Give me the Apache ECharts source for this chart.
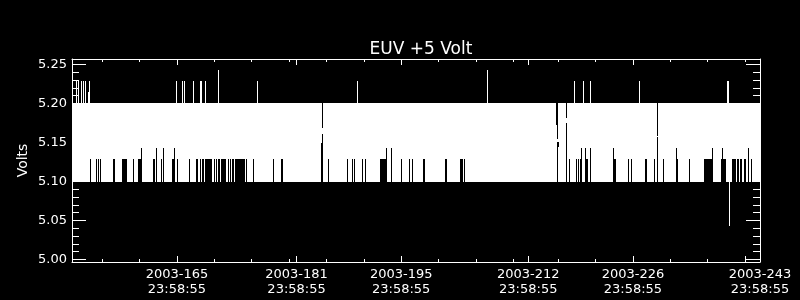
<!DOCTYPE html>
<html><head><meta charset="utf-8">
<script src="https://cdn.jsdelivr.net/npm/echarts@6/dist/echarts.min.js"></script>
<style>html,body{margin:0;padding:0;background:#000}#c{width:800px;height:300px}</style>
</head><body><div id="c"></div>
<script>
// ---------- text ----------
const TITLE = 'EUV +5 Volt';
const Y_NAME = 'Volts';

// ---------- axes (x in day-of-year 2003) ----------
const X_MIN = 150.96, X_MAX = 243.0;
const Y_MIN = 4.9968, Y_MAX = 5.2571;
const xLabelDays = [165, 181, 195, 212, 226, 243];
const xLabels = ['2003-165\n23:58:55', '2003-181\n23:58:55', '2003-195\n23:58:55',
                 '2003-212\n23:58:55', '2003-226\n23:58:55', '2003-243\n23:58:55'];
const xMajorBottom = [165, 181, 195, 212, 226, 241.04];
const xMajorTop = [165, 181, 195, 212, 226];
const xMinorBottom = [155, 160, 170, 175, 180, 185, 190, 200, 205, 210, 216, 221, 231, 236];
const xMinorTop = [155, 160, 170, 175, 180, 185, 190, 200, 205, 210, 216, 221, 231, 236, 241.04];
const yMajor = [5.00, 5.05, 5.10, 5.15, 5.20, 5.25];
const yMinor = [5.01, 5.02, 5.03, 5.04, 5.06, 5.07, 5.08, 5.09, 5.11, 5.12, 5.13, 5.14,
                5.16, 5.17, 5.18, 5.19, 5.21, 5.22, 5.23, 5.24];

// ---------- quantised voltage levels (V) ----------
const BAND_LOW = 5.0995, BAND_HIGH = 5.2008;
const L1 = 5.1289, L2 = 5.1430;           // minimum reached during dips
const S1 = 5.2289, S2 = 5.2430, S3 = 5.2148; // peaks above the band

// main oscillation band: [dayStart, dayEnd]
const band = [[150.96, 243.0]];

// dips: [dayStart, dayEnd, minimum voltage] (band minimum rose to this level)
const dips = [
  [153.318,153.452,L1],[154.121,154.254,L1],[154.388,154.522,L1],[154.656,154.790,L1],
  [156.395,156.662,L1],[157.599,158.268,L1],[159.070,159.204,L1],[159.739,160.141,L1],
  [160.141,160.275,L2],[161.746,162.014,L1],[162.147,162.281,L2],[162.816,162.950,L1],
  [163.084,163.218,L2],[164.288,164.556,L1],[164.556,164.689,L2],[164.957,165.091,L1],
  [166.562,166.696,L1],[167.499,167.766,L1],[168.034,168.168,L1],[168.301,168.569,L1],
  [168.703,169.639,L1],[169.907,170.040,L1],[170.174,170.308,L1],[170.442,170.709,L1],
  [170.843,171.512,L1],[171.780,171.913,L1],[172.047,172.181,L1],[172.315,172.582,L1],
  [172.716,174.054,L1],[174.188,174.321,L1],[175.124,175.258,L1],[177.800,177.933,L1],
  [178.870,179.137,L1],[185.157,185.291,L1],[187.699,187.833,L1],[188.368,188.502,L1],
  [188.636,188.770,L1],[189.706,189.840,L1],[190.107,190.241,L1],[192.114,192.917,L1],
  [192.917,193.050,L2],[193.586,193.719,L2],[194.923,195.057,L1],[195.994,196.127,L1],
  [196.395,196.529,L1],[197.866,198.134,L1],[200.810,201.077,L1],[202.816,203.218,L1],
  [203.351,203.485,L1],[217.398,217.532,L1],[218.335,218.468,L1],[218.602,218.736,L1],
  [218.870,219.003,L1],[219.003,219.137,L2],[219.539,219.672,L2],[219.672,219.940,L1],
  [220.208,220.341,L2],[223.284,223.418,L2],[223.418,223.686,L1],[225.291,225.425,L1],
  [225.693,225.826,L1],[227.565,227.833,L1],[228.769,228.903,L1],[229.973,230.107,L1],
  [231.713,231.847,L2],[231.847,231.981,L1],[233.452,233.585,L1],[235.458,236.529,L1],
  [236.529,236.662,L2],[237.733,237.866,L1],[237.866,238.000,L2],[238.000,238.402,L1],
  [239.204,239.740,L1],[239.873,240.141,L1],[240.274,240.542,L1],[240.810,241.077,L1],
  [241.345,241.478,L2],[241.746,241.880,L1]
];

// dropouts inside the band: [dayStart, dayEnd, low, high]
const dropouts = [
  [184.221,184.355,BAND_LOW,5.1490],
  [184.355,184.489,BAND_LOW,5.1610],
  [184.355,184.489,5.1690,BAND_HIGH],
  [215.659,215.793,5.1725,BAND_HIGH],
  [215.793,215.927,BAND_LOW,5.1511],
  [215.793,215.927,5.1545,BAND_HIGH],
  [215.927,216.060,5.1447,5.1511],
  [216.997,217.131,BAND_LOW,5.1754],
  [216.997,217.131,5.1811,BAND_HIGH],
  [229.171,229.305,BAND_LOW,5.1567],
  [229.171,229.305,5.1584,BAND_HIGH]
];

// peaks above the band: [dayStart, dayEnd, peak voltage]
const peaks = [
  [151.445,151.579,S1],[151.713,151.846,S1],[152.114,152.248,S1],[152.382,152.515,S1],
  [152.649,152.783,S1],[153.050,153.184,S3],[153.184,153.318,S1],[164.823,164.957,S1],
  [165.626,165.760,S1],[165.893,166.027,S1],[167.097,167.231,S1],[168.034,168.301,S1],
  [168.703,168.836,S1],[170.442,170.575,S2],[175.659,175.793,S1],[189.037,189.171,S1],
  [206.429,206.563,S2],[218.067,218.201,S1],[219.271,219.405,S1],[220.208,220.341,S1],
  [226.763,226.897,S1],[238.535,238.803,S1]
];

// excursions below the band: [dayStart, dayEnd, lowest voltage]
const lows = [[238.803,238.937,5.0434]];

// ---------- chart ----------
const FONT = 'DejaVu Sans';
const W = '#ffffff';

function rectRenderer(color) {
  return function (params, api) {
    const a = api.coord([api.value(0), api.value(2)]);
    const b = api.coord([api.value(1), api.value(3)]);
    const x0 = Math.round(Math.min(a[0], b[0]));
    const x1 = Math.max(x0 + 1, Math.round(Math.max(a[0], b[0])));
    const y0 = Math.round(Math.min(a[1], b[1]));
    const y1 = Math.max(y0 + 1, Math.round(Math.max(a[1], b[1])));
    return { type: 'rect', shape: { x: x0, y: y0, width: x1 - x0, height: y1 - y0 },
             style: { fill: color }, silent: true };
  };
}
function rectSeries(name, data, color) {
  return { name, type: 'custom', renderItem: rectRenderer(color), data,
           encode: { x: [0, 1], y: [2, 3] }, clip: true, animation: false, silent: true };
}

const bandData = band.map(([s, e]) => [s, e, BAND_LOW, BAND_HIGH]);
const dipData = dips.map(([s, e, v]) => [s, e, BAND_LOW, v]);
const peakData = peaks.map(([s, e, v]) => [s, e, BAND_HIGH, v]);
const lowData = lows.map(([s, e, v]) => [s, e, v, BAND_LOW]);

function xAxisDef(pos, ticks, len, showLine, showLabels) {
  return {
    type: 'value', position: pos, min: X_MIN, max: X_MAX,
    axisLine: { show: showLine, onZero: false, lineStyle: { color: W, width: 1 } },
    axisTick: { show: true, inside: true, length: len, customValues: ticks, lineStyle: { color: W, width: 1 } },
    axisLabel: showLabels ? {
      show: true, customValues: xLabelDays, color: W, fontFamily: FONT, fontSize: 13,
      lineHeight: 15, margin: 5,
      formatter: v => { const i = xLabelDays.findIndex(d => Math.abs(d - v) < 1e-6); return i >= 0 ? xLabels[i] : ''; }
    } : { show: false },
    splitLine: { show: false }
  };
}
function yAxisDef(pos, ticks, len, showLine, showLabels) {
  const ax = {
    type: 'value', position: pos, min: Y_MIN, max: Y_MAX,
    axisLine: { show: showLine, onZero: false, lineStyle: { color: W, width: 1 } },
    axisTick: { show: true, inside: true, length: len, customValues: ticks, lineStyle: { color: W, width: 1 } },
    axisLabel: showLabels ? {
      show: true, customValues: yMajor, color: W, fontFamily: FONT, fontSize: 13, margin: 5,
      formatter: v => v.toFixed(2)
    } : { show: false },
    splitLine: { show: false }
  };
  if (showLabels) {
    ax.name = Y_NAME; ax.nameLocation = 'middle'; ax.nameRotate = 90; ax.nameGap = 42;
    ax.nameMoveOverlap = false;
    ax.nameTextStyle = { color: W, fontFamily: FONT, fontSize: 14 };
  }
  return ax;
}

const chart = echarts.init(document.getElementById('c'), null, { renderer: 'canvas' });
chart.setOption({
  backgroundColor: '#000',
  animation: false,
  title: { text: TITLE, left: 416, top: 36, textAlign: 'center',
           textStyle: { color: W, fontFamily: FONT, fontSize: 17, fontWeight: 'normal' } },
  grid: { left: 72, right: 40, top: 59, bottom: 38, containLabel: false },
  xAxis: [
    xAxisDef('bottom', xMajorBottom, 6, true, true),
    xAxisDef('bottom', xMinorBottom, 3, false, false),
    xAxisDef('top', xMajorTop, 6, true, false),
    xAxisDef('top', xMinorTop, 3, false, false)
  ],
  yAxis: [
    yAxisDef('left', yMajor, 14, true, true),
    yAxisDef('left', yMinor, 7, false, false),
    yAxisDef('right', yMajor, 14, true, false),
    yAxisDef('right', yMinor, 7, false, false)
  ],
  series: [
    rectSeries('band', bandData, W),
    rectSeries('dips', dipData, '#000'),
    rectSeries('dropouts', dropouts, '#000'),
    rectSeries('peaks', peakData, W),
    rectSeries('lows', lowData, W)
  ]
});
</script></body></html>
